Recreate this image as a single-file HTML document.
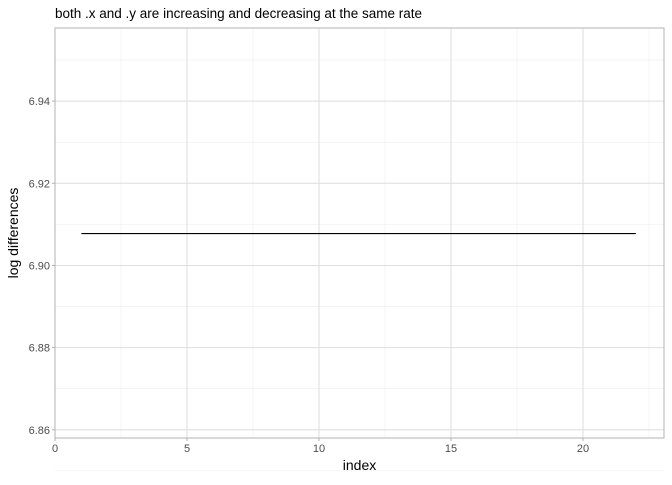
<!DOCTYPE html>
<html><head><meta charset="utf-8"><style>
body{margin:0;background:#fff;font-family:"Liberation Sans",Arial,sans-serif}
</style></head><body>
<svg width="672" height="480" xmlns="http://www.w3.org/2000/svg" font-family="Liberation Sans, Arial, sans-serif">
<text x="55" y="18" font-size="13.5" fill="#000">both .x and .y are increasing and decreasing at the same rate</text>
<g id="grid"></g>
<rect x="55" y="28" width="609" height="410" fill="none" stroke="#b3b3b3" stroke-width="1"/>
<g id="marks"></g>
<g id="axes"></g>
<text x="359.5" y="470" font-size="14" text-anchor="middle">index</text>
<text transform="translate(18,233) rotate(-90)" font-size="14" text-anchor="middle">log differences</text>
</svg>
<script>
const xValues=[1,2,3,4,5,6,7,8,9,10,11,12,13,14,15,16,17,18,19,20,21,22];
const yValues=[6.907755,6.907755,6.907755,6.907755,6.907755,6.907755,6.907755,6.907755,6.907755,6.907755,6.907755,6.907755,6.907755,6.907755,6.907755,6.907755,6.907755,6.907755,6.907755,6.907755,6.907755,6.907755];
const xTicks=[0,5,10,15,20];
const yTicks=[6.86,6.88,6.90,6.92,6.94];
const NS="http://www.w3.org/2000/svg";
const L=55,R=664,T=28,B=438;
const xMin=0-(L-55)/26.4, xMax=(R-55)/26.4;
const yMin=6.858, yMax=6.9578;
const sx=v=>L+(v-0)/(xMax-0)*(R-L);
const sy=v=>B-(v-yMin)/(yMax-yMin)*(B-T);
function mk(tag,attrs,parent){const e=document.createElementNS(NS,tag);for(const k in attrs)e.setAttribute(k,attrs[k]);parent.appendChild(e);return e;}
const grid=document.getElementById('grid'),axes=document.getElementById('axes'),marks=document.getElementById('marks');
// minor grid
for(let i=0;i<xTicks.length;i++){const v=xTicks[i]+2.5;if(sx(v)<R){const e=mk('line',{x1:sx(v),x2:sx(v),y1:T,y2:B,stroke:'#ededed','stroke-width':0.6},grid);}}
for(let i=0;i<yTicks.length;i++){const v=yTicks[i]+0.01;if(sy(v)>T){const e=mk('line',{x1:L,x2:R,y1:sy(v),y2:sy(v),stroke:'#ededed','stroke-width':0.6},grid);}}
{const e=mk('line',{x1:L,x2:R,y1:sy(yTicks[0]-0.01),y2:sy(yTicks[0]-0.01),stroke:'#ededed','stroke-width':0.6},grid);}
xTicks.forEach(v=>{const g=mk('line',{x1:sx(v),x2:sx(v),y1:T,y2:B,stroke:'#dedede','stroke-width':1},grid);
 const t=mk('line',{x1:sx(v),x2:sx(v),y1:B,y2:B+3,stroke:'#b3b3b3'},axes);
 const l=mk('text',{x:sx(v),y:B+14,'font-size':11,fill:'#4d4d4d','text-anchor':'middle'},axes);l.textContent=v;});
yTicks.forEach(v=>{const g=mk('line',{x1:L,x2:R,y1:sy(v),y2:sy(v),stroke:'#dedede','stroke-width':1},grid);
 mk('line',{x1:L-3,x2:L,y1:sy(v),y2:sy(v),stroke:'#b3b3b3'},axes);
 const l=mk('text',{x:L-5,y:sy(v)+4,'font-size':11,fill:'#4d4d4d','text-anchor':'end'},axes);l.textContent=v.toFixed(2);});
const p=mk('polyline',{points:xValues.map((x,i)=>sx(x)+','+sy(yValues[i])).join(' '),fill:'none',stroke:'#000','stroke-width':1.1},marks);


</script>
</body></html>
